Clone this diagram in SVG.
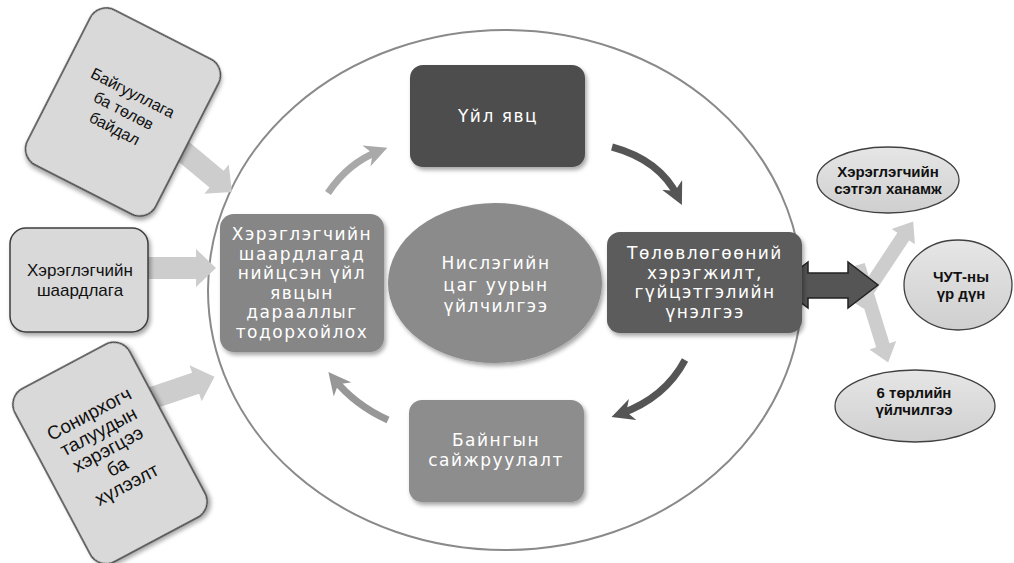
<svg xmlns="http://www.w3.org/2000/svg" width="1014" height="563" viewBox="0 0 1014 563">
<defs>
<style>
.outer{fill:#d9d9d9;stroke:#3c3c3c;stroke-width:1.5}
.blk{font-family:"Liberation Sans",Arial,sans-serif;fill:#111;text-anchor:middle}
.wt{font-family:"DejaVu Sans","Liberation Sans",sans-serif;font-size:17px;letter-spacing:1.5px;fill:#fff;text-anchor:middle}
.res{fill:url(#gEll);stroke:#404040;stroke-width:1.3}
.res-t{font-family:"Liberation Sans",Arial,sans-serif;font-size:15px;font-weight:bold;fill:#111;text-anchor:middle}
.lt{fill:#cdcdcd}
.cv{fill:none;stroke-width:7;stroke-linecap:butt}
</style>
<filter id="sh" x="-20%" y="-20%" width="140%" height="140%">
<feDropShadow dx="2" dy="3" stdDeviation="2" flood-color="#000" flood-opacity="0.35"/>
</filter>
<linearGradient id="gEll" x1="0" y1="0" x2="0" y2="1">
<stop offset="0" stop-color="#e6e6e6"/>
<stop offset="1" stop-color="#cfcfcf"/>
</linearGradient>
<marker id="mLight" viewBox="0 0 10 10" refX="6" refY="5" markerWidth="3.2" markerHeight="3.2" orient="auto"><path d="M0,0 L10,5 L0,10 L3,5 z" fill="#a9a9a9"/></marker>
<marker id="mDark" viewBox="0 0 10 10" refX="6" refY="5" markerWidth="3.2" markerHeight="3.2" orient="auto"><path d="M0,0 L10,5 L0,10 L3,5 z" fill="#555"/></marker>
<marker id="mMid" viewBox="0 0 10 10" refX="6" refY="5" markerWidth="3.2" markerHeight="3.2" orient="auto"><path d="M0,0 L10,5 L0,10 L3,5 z" fill="#979797"/></marker>
</defs>
<rect width="1014" height="563" fill="#fff"/>

<g id="ring">
<ellipse cx="505" cy="290" rx="297" ry="260" fill="none" stroke="#8a8a8a" stroke-width="2"/>
</g>

<g id="connectors">
<path class="lt" transform="translate(172,142) rotate(39.8)" d="M0,-11 L58,-11 L58,-19 L78,0 L58,19 L58,11 L0,11 z"/>
<path class="lt" transform="translate(148,268)" d="M0,-11 L48,-11 L48,-19 L68,0 L48,19 L48,11 L0,11 z"/>
<path class="lt" transform="translate(152,398) rotate(-18.7)" d="M0,-11 L46,-11 L46,-19 L66,0 L46,19 L46,11 L0,11 z"/>
<path class="lt" transform="translate(858,305) rotate(-56.5)" d="M0,-7 L82,-7 L82,-14 L100,0 L82,14 L82,7 L0,7 z"/>
<path class="lt" transform="translate(858,265) rotate(72.8)" d="M0,-7 L84,-7 L84,-14 L102,0 L84,14 L84,7 L0,7 z"/>
<polygon points="778,285 808,262 808,273 848,273 848,262 878,285 848,308 848,298 808,298 808,308" fill="#555" stroke="#222" stroke-width="1.5"/>
<path class="cv" d="M328,193 Q348,163 379,151" stroke="#a9a9a9" marker-end="url(#mLight)"/>
<path class="cv" d="M612,147 Q660,160 678,197" stroke="#555" marker-end="url(#mDark)"/>
<path class="cv" d="M685,360 Q665,398 620,414" stroke="#555" marker-end="url(#mDark)"/>
<path class="cv" d="M388,420 Q355,405 334,379" stroke="#979797" marker-end="url(#mMid)"/>
</g>

<g id="node-org" transform="translate(123,112) rotate(27)">
<rect class="outer" x="-72" y="-87" width="144" height="174" rx="18" filter="url(#sh)"/>
<text class="blk" font-size="16"><tspan x="0" y="-16">Байгууллага</tspan><tspan x="0" y="4">ба төлөв</tspan><tspan x="0" y="24">байдал</tspan></text>
</g>

<g id="node-req">
<rect class="outer" x="10" y="228" width="138" height="104" rx="16" filter="url(#sh)"/>
<text class="blk" font-size="17"><tspan x="80" y="276">Хэрэглэгчийн</tspan><tspan x="80" y="296">шаардлага</tspan></text>
</g>

<g id="node-stake" transform="translate(110,453) rotate(-28)">
<rect class="outer" x="-65" y="-98" width="130" height="196" rx="18" filter="url(#sh)"/>
<text class="blk" font-size="19"><tspan x="0" y="-38">Сонирхогч</tspan><tspan x="0" y="-18">талуудын</tspan><tspan x="0" y="2">хэрэгцээ</tspan><tspan x="0" y="22">ба</tspan><tspan x="0" y="42">хүлээлт</tspan></text>
</g>

<g id="node-define">
<rect x="220" y="214" width="164" height="138" rx="14" fill="#868686" filter="url(#sh)"/>
<text class="wt"><tspan x="302" y="240">Хэрэглэгчийн</tspan><tspan x="302" y="259.5">шаардлагад</tspan><tspan x="302" y="279">нийцсэн үйл</tspan><tspan x="302" y="298.5">явцын</tspan><tspan x="302" y="318">дарааллыг</tspan><tspan x="302" y="337.5">тодорхойлох</tspan></text>
</g>

<g id="node-center">
<ellipse cx="495" cy="283" rx="107" ry="80" fill="#8b8b8b" filter="url(#sh)"/>
<text class="wt"><tspan x="496" y="269">Нислэгийн</tspan><tspan x="496" y="291">цаг уурын</tspan><tspan x="496" y="312">үйлчилгээ</tspan></text>
</g>

<g id="node-process">
<rect x="410" y="65" width="175" height="102" rx="13" fill="#4d4d4d" filter="url(#sh)"/>
<text class="wt" x="498" y="122">Үйл явц</text>
</g>

<g id="node-eval">
<rect x="607" y="232" width="195" height="101" rx="13" fill="#5c5c5c" filter="url(#sh)"/>
<text class="wt"><tspan x="705" y="259">Төлөвлөгөөний</tspan><tspan x="705" y="278.5">хэрэгжилт,</tspan><tspan x="705" y="298">гүйцэтгэлийн</tspan><tspan x="705" y="317.5">үнэлгээ</tspan></text>
</g>

<g id="node-improve">
<rect x="409" y="400" width="175" height="102" rx="13" fill="#8d8d8d" filter="url(#sh)"/>
<text class="wt"><tspan x="496" y="446">Байнгын</tspan><tspan x="496" y="466">сайжруулалт</tspan></text>
</g>

<g id="node-satisfaction">
<ellipse class="res" cx="888" cy="180" rx="71" ry="33"/>
<text class="res-t"><tspan x="888" y="177">Хэрэглэгчийн</tspan><tspan x="888" y="194">сэтгэл ханамж</tspan></text>
</g>

<g id="node-result">
<ellipse class="res" cx="958" cy="285" rx="54" ry="45"/>
<text class="res-t"><tspan x="961" y="282">ЧУТ-ны</tspan><tspan x="961" y="299">үр дүн</tspan></text>
</g>

<g id="node-services">
<ellipse class="res" cx="915" cy="406" rx="80" ry="36"/>
<text class="res-t"><tspan x="914" y="398">6 төрлийн</tspan><tspan x="914" y="415">үйлчилгээ</tspan></text>
</g>
</svg>
